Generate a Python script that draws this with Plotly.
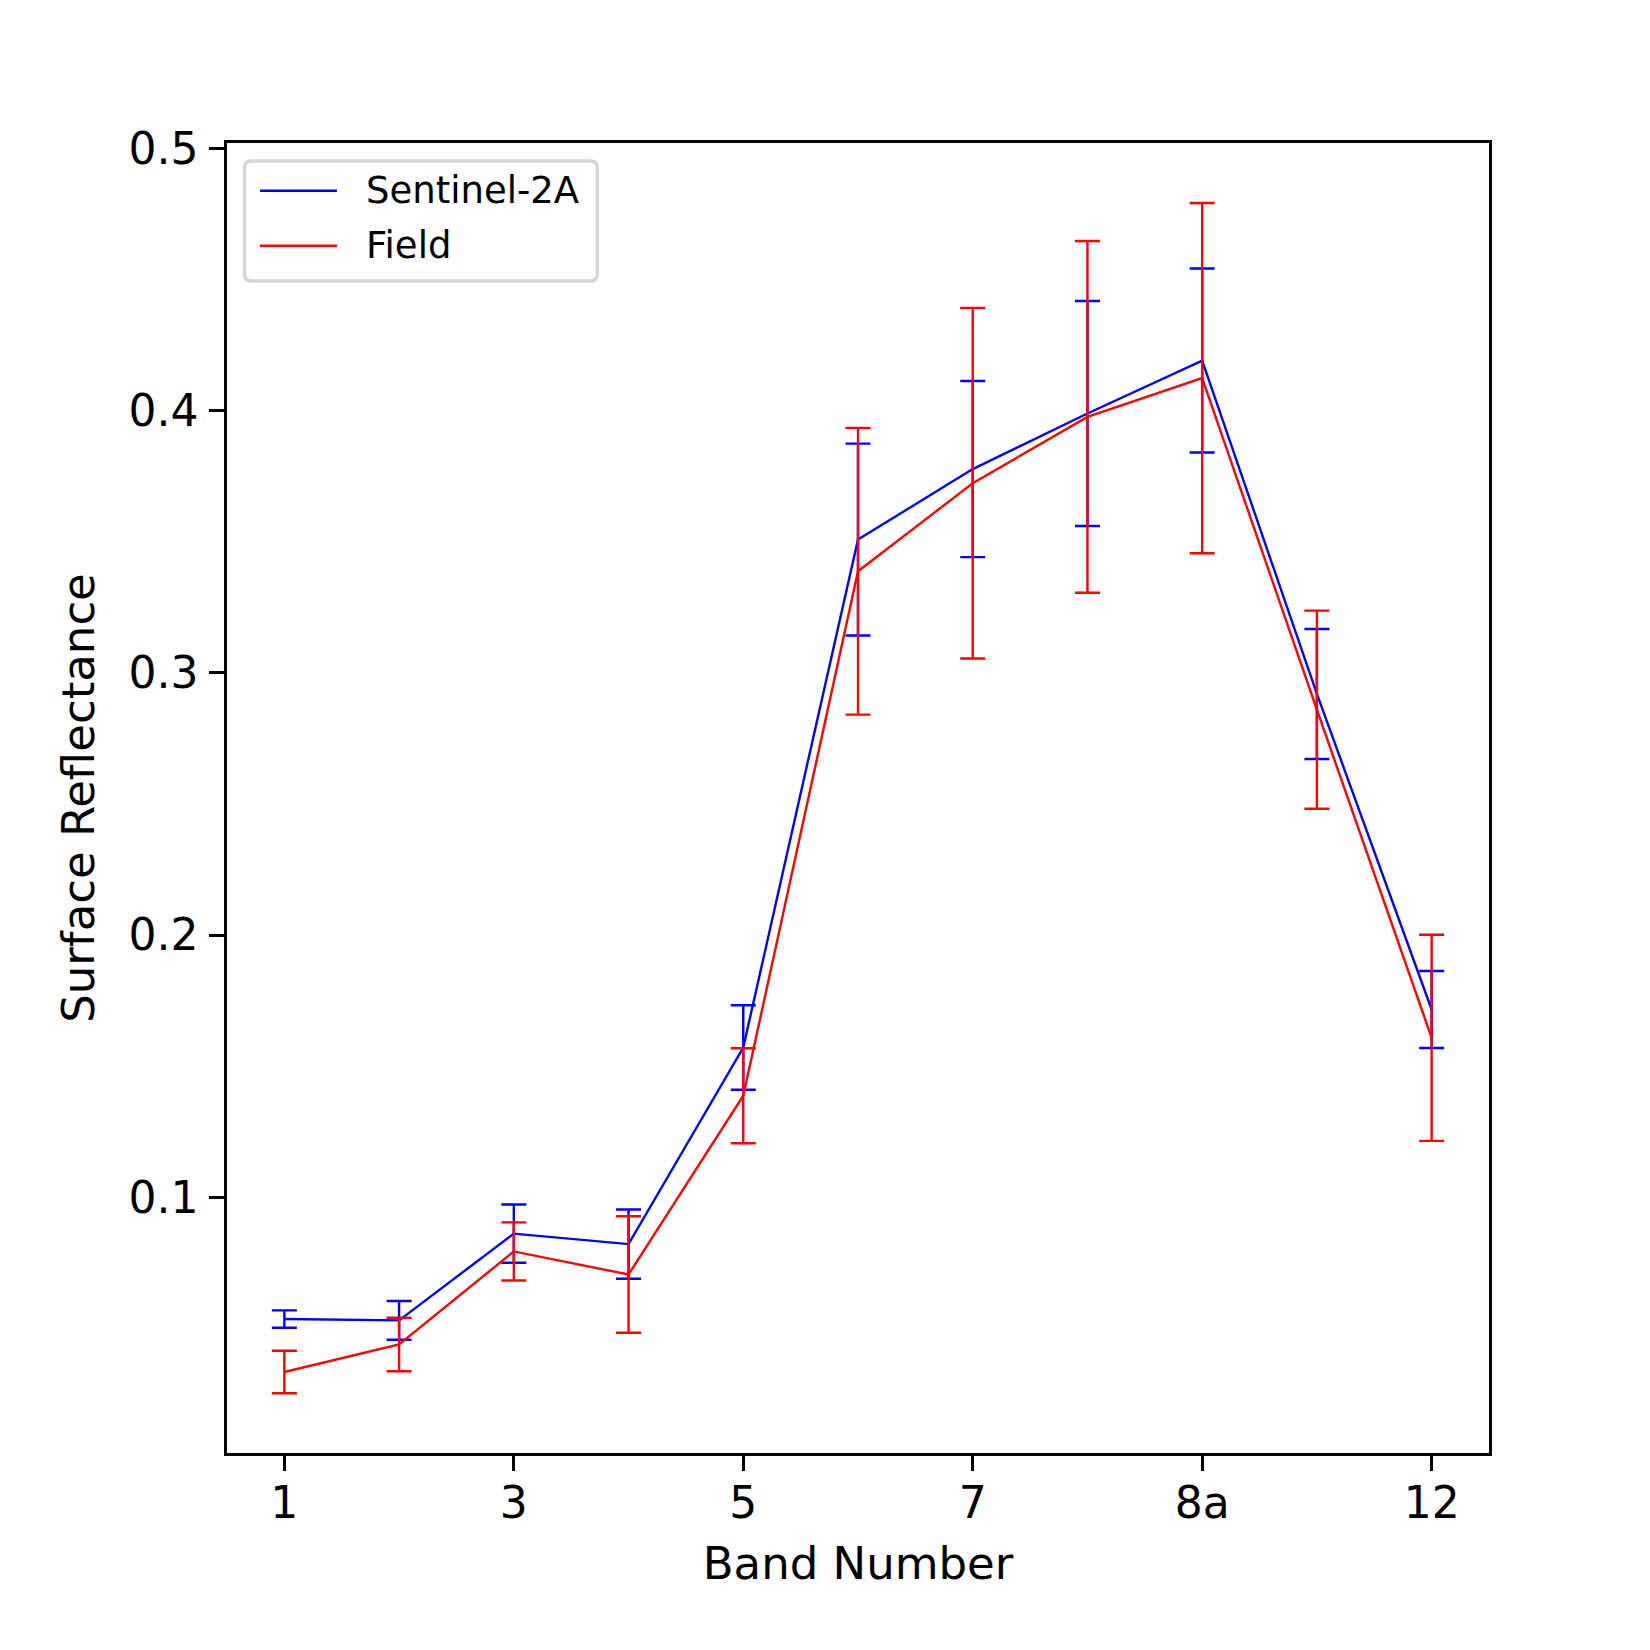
import plotly.graph_objects as go

bands = ["1", "2", "3", "4", "5", "6", "7", "8", "8a", "11", "12"]
s2_mean = [0.0535, 0.0530, 0.0861, 0.0821, 0.1571, 0.3509, 0.3778, 0.3990, 0.4192, 0.2920, 0.1716]
s2_err = [0.0033, 0.0074, 0.0111, 0.0132, 0.0161, 0.0366, 0.0336, 0.0429, 0.0351, 0.0248, 0.0147]
field_mean = [0.0333, 0.0438, 0.0793, 0.0705, 0.1387, 0.3388, 0.3724, 0.3977, 0.4125, 0.2860, 0.1608]
field_err = [0.0081, 0.0102, 0.0111, 0.0222, 0.0181, 0.0547, 0.0669, 0.0671, 0.0668, 0.0378, 0.0393]
x_ticks = ["1", "3", "5", "7", "8a", "12"]
y_ticks = [0.1, 0.2, 0.3, 0.4, 0.5]
series_names = ["Sentinel-2A", "Field"]
series_colors = ["#0000ff", "#ff0000"]

FONT = "DejaVu Sans"
W = H = 1650
L, R, T, B = 226.5, 161.0, 143.0, 197.0
PW = W - L - R
PH = H - T - B

fig = go.Figure()
for name, mean, err, col in [
    (series_names[0], s2_mean, s2_err, series_colors[0]),
    (series_names[1], field_mean, field_err, series_colors[1]),
]:
    fig.add_trace(go.Scatter(
        x=bands, y=mean, mode="lines", name=name,
        line=dict(color=col, width=2.4),
        error_y=dict(type="data", array=err, visible=True, color=col,
                     thickness=2.4, width=12.5),
        showlegend=False,
    ))

def px(xp):
    return (xp - L) / PW

def py(yp):
    return (H - B - yp) / PH

# manual legend (matplotlib style)
x0, x1, y0, y1 = 244, 597, 161, 281
r = 7
path = (f"M {px(x0+r)},{py(y0)} L {px(x1-r)},{py(y0)} Q {px(x1)},{py(y0)} {px(x1)},{py(y0+r)} "
        f"L {px(x1)},{py(y1-r)} Q {px(x1)},{py(y1)} {px(x1-r)},{py(y1)} "
        f"L {px(x0+r)},{py(y1)} Q {px(x0)},{py(y1)} {px(x0)},{py(y1-r)} "
        f"L {px(x0)},{py(y0+r)} Q {px(x0)},{py(y0)} {px(x0+r)},{py(y0)} Z")
fig.add_shape(type="path", path=path, xref="paper", yref="paper",
              line=dict(color="#d6d6d6", width=3.4), fillcolor="rgba(255,255,255,0.8)", layer="above")
rows = [190.7, 245.7]
for i, (name, col) in enumerate(zip(series_names, series_colors)):
    fig.add_shape(type="line", xref="paper", yref="paper",
                  x0=px(259.5), x1=px(336.5), y0=py(rows[i]), y1=py(rows[i]),
                  line=dict(color=col, width=2.4), layer="above")
    fig.add_annotation(x=px(364), y=py(rows[i]), xref="paper", yref="paper",
                       text=name, showarrow=False, xanchor="left", yanchor="middle",
                       font=dict(family=FONT, size=37, color="black"))

fig.update_layout(
    width=W, height=H,
    margin=dict(l=L, r=R, t=T, b=B, pad=0),
    paper_bgcolor="white", plot_bgcolor="white",
    font=dict(family=FONT, color="black"),
    xaxis=dict(
        type="category", categoryorder="array", categoryarray=bands,
        range=[-0.5, 10.5], tickmode="array", tickvals=x_ticks, ticktext=x_ticks,
        showgrid=False, zeroline=False,
        showline=True, linecolor="black", linewidth=3.3, mirror=True,
        ticks="outside", ticklen=14.6, tickwidth=3.3, tickcolor="black",
        ticklabelstandoff=-6,
        tickfont=dict(family=FONT, size=44, color="black"),
        title=dict(text="Band Number", font=dict(family=FONT, size=45, color="black"), standoff=21),
    ),
    yaxis=dict(
        range=[0.0024, 0.5022], tickmode="array", tickvals=y_ticks,
        ticktext=[f"{v:.1f}" for v in y_ticks],
        showgrid=False, zeroline=False,
        showline=True, linecolor="black", linewidth=3.3, mirror=True,
        ticks="outside", ticklen=14.6, tickwidth=3.3, tickcolor="black",
        ticklabelstandoff=2,
        tickfont=dict(family=FONT, size=44, color="black"),
        title=dict(text="Surface Reflectance", font=dict(family=FONT, size=45, color="black"), standoff=20),
    ),
)

fig.write_html("out.html")
